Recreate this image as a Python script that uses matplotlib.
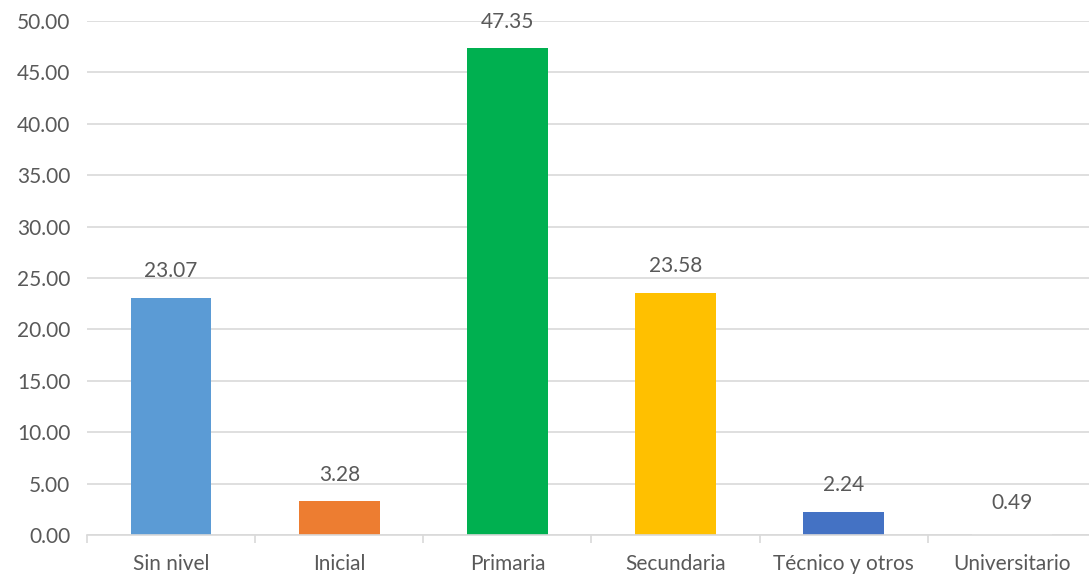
import matplotlib.pyplot as plt
import numpy as np

# nivel educativo (%)
categorias = ["Sin nivel", "Inicial", "Primaria", "Secundaria", "Técnico y otros", "Universitario"]
porcentajes = [23.07, 3.28, 47.35, 23.58, 2.24, 0.49]
colores = ["#5B9BD5", "#ED7D31", "#00B050", "#FFC000", "#4472C4", "#FFFFFF"]
yticks = [0, 5, 10, 15, 20, 25, 30, 35, 40, 45, 50]

plt.rcParams['font.family'] = ['Lato', 'DejaVu Sans']
texto = "#595959"
fs = 15

fig = plt.figure(figsize=(10.89, 5.79), dpi=100)
ax = fig.add_axes([87 / 1089, 1 - 535 / 579, 1009 / 1089, 514 / 579])

x = np.arange(len(categorias))
ax.bar(x, porcentajes, width=0.48, color=colores, zorder=3)

for xi, v in zip(x, porcentajes):
    ax.annotate(f"{v:.2f}", (xi, v), xytext=(0, 12), textcoords="offset points",
                ha="center", va="bottom", fontsize=fs, color=texto)

ax.set_xlim(-0.5, len(categorias) - 0.5)
ax.set_ylim(0, 50)
ax.set_yticks(yticks)
ax.set_yticklabels([f"{t:.2f}" for t in yticks])
ax.yaxis.grid(True, color="#D9D9D9", linewidth=1.2, zorder=0)
ax.tick_params(axis="y", length=0, pad=12, labelsize=fs, labelcolor=texto)

ax.set_xticks(x)
ax.set_xticklabels(categorias)
ax.set_xticks(np.arange(-0.5, len(categorias)), minor=True)
ax.tick_params(axis="x", which="major", length=0, pad=14, labelsize=fs, labelcolor=texto)
ax.tick_params(axis="x", which="minor", length=6, width=1.2, color="#D9D9D9")

for s in ["top", "right", "left"]:
    ax.spines[s].set_visible(False)
ax.spines["bottom"].set_color("#D9D9D9")
ax.spines["bottom"].set_linewidth(1.2)
ax.spines["bottom"].set_zorder(4)

fig.savefig("out.png", dpi=100)
